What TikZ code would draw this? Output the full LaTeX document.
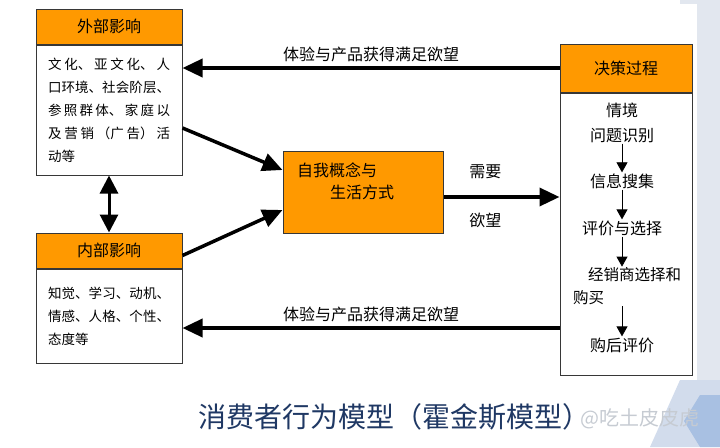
\documentclass[tikz,border=0pt]{standalone}
\usepackage{fontspec}
\setmainfont{Noto Sans CJK SC}
\usepackage{tikz}
\usetikzlibrary{arrows.meta, positioning}
\XeTeXlinebreaklocale "zh"
\XeTeXlinebreakskip=0pt plus 4pt
\definecolor{myorange}{RGB}{255,153,0}
\definecolor{myedge}{RGB}{55,55,55}
\definecolor{mytitle}{RGB}{31,56,100}
\definecolor{mystrip}{RGB}{226,231,239}
\definecolor{myhex}{RGB}{210,220,236}
\definecolor{myhexdark}{RGB}{168,192,226}
\definecolor{watermark}{RGB}{198,203,210}
\tikzset{
  hdrbox/.style={rectangle, draw=myedge, fill=myorange,
    minimum width=146pt, minimum height=35pt, inner sep=0pt,
    font=\fontsize{16}{18}\selectfont, line width=1pt},
  bodybox/.style={rectangle, draw=myedge, fill=white,
    minimum width=146pt, text width=122pt, inner xsep=12pt, align=justify,
    font=\fontsize{13.5}{23}\selectfont, line width=1pt},
  plainbox/.style={rectangle, draw=myedge, fill=white, line width=1pt},
  selfbox/.style={rectangle, draw=myedge, fill=myorange,
    minimum width=160pt, minimum height=82pt, line width=1pt},
  selftext/.style={align=left, inner sep=0pt, font=\fontsize{16}{22}\selectfont},
  stepbox/.style={align=center, inner sep=1pt, font=\fontsize{16}{25}\selectfont},
  flowlabel/.style={font=\fontsize{16}{18}\selectfont},
  bigarrow/.style={-{Triangle[length=20pt, width=18pt]}, line width=3.5pt},
  dblarrow/.style={{Triangle[length=18pt, width=18pt]}-{Triangle[length=18pt, width=18pt]}, line width=3pt},
  smallarrow/.style={-{Triangle[length=10pt, width=11pt]}, line width=0.8pt}
}
\begin{document}
\begin{tikzpicture}[x=1pt, y=-1pt]
  \useasboundingbox (0,0) rectangle (720,447);
  \fill[mystrip] (697,0) rectangle (720,447);
  \fill[mystrip] (680,0) rectangle (697,4);
  \fill[myhex] (680,380) -- (720,380) -- (720,447) -- (650,447) -- cycle;
  \fill[myhexdark] (700,395) -- (720,395) -- (720,447) -- (700,447) -- (684,421) -- cycle;

  \node[hdrbox] (exthead) at (109,26.5) {外部影响};
  \node[bodybox, minimum height=130pt, below=0pt of exthead] (extbody)
    {文化、亚文化、人\linebreak 口环境、社会阶层、\linebreak 参照群体、家庭以\linebreak 及营销（广告）活\linebreak 动等};
  \node[hdrbox] (inthead) at (109,250.5) {内部影响};
  \node[bodybox, minimum height=94pt, below=0pt of inthead] (intbody)
    {知觉、学习、动机、\linebreak 情感、人格、个性、\linebreak 态度等};

  \node[selfbox] (self) at (363,192) {};
  \node[selftext] (selftext) at ([xshift=-17.5pt, yshift=11pt]self.center)
    {自我概念与\\\hspace*{33pt}生活方式};

  \node[hdrbox, minimum width=132pt, minimum height=48pt] (dechead) at (626,68) {决策过程};
  \node[plainbox, minimum width=132pt, minimum height=282pt, below=0pt of dechead] (decbody) {};
  \node[stepbox] (s1) at (622,122.5) {情境\\问题识别};
  \node[stepbox] (s2) at (622,181) {信息搜集};
  \node[stepbox] (s3) at (622,228) {评价与选择};
  \node[stepbox, align=left, text width=112pt, font=\fontsize{15.5}{23}\selectfont] (s4) at (629,286.5)
    {\hspace*{15pt}经销商选择和\\购买};
  \node[stepbox] (s5) at (622,345) {购后评价};

  \draw[smallarrow] (s1.south) -- (s2.north);
  \draw[smallarrow] (s2.south) -- (s3.north);
  \draw[smallarrow] (s3.south) -- (s3.south |- s4.north);
  \draw[smallarrow] (s5.north |- s4.south) -- (s5.north);

  \draw[bigarrow] (dechead.west) -- node[flowlabel, above=1pt] {体验与产品获得满足欲望} (dechead.west -| extbody.east);
  \coordinate (backlow) at ([yshift=-94pt]decbody.west);
  \draw[bigarrow] (backlow) -- node[flowlabel, above=1pt] {体验与产品获得满足欲望} (backlow -| intbody.east);
  \draw[bigarrow] ([yshift=-5pt]self.east) -- node[flowlabel, pos=0.36, above=13pt] {需要}
    node[flowlabel, pos=0.36, below=11pt] {欲望} ([yshift=-5pt]self.east -| decbody.west);
  \draw[bigarrow] ([yshift=-18pt]extbody.east) -- ([yshift=22pt]self.west);
  \draw[bigarrow] ([yshift=-5pt]inthead.east) -- ([yshift=-18pt]self.west);
  \draw[dblarrow] (extbody.south) -- (inthead.north);

  \node[font=\fontsize{28}{30}\selectfont, text=mytitle] (title) at (394,417) {消费者行为模型（霍金斯模型）};
  \node[font=\fontsize{20}{22}\selectfont, text=watermark] (mark) at (640,419) {@吃土皮皮虎};
\end{tikzpicture}
\end{document}
